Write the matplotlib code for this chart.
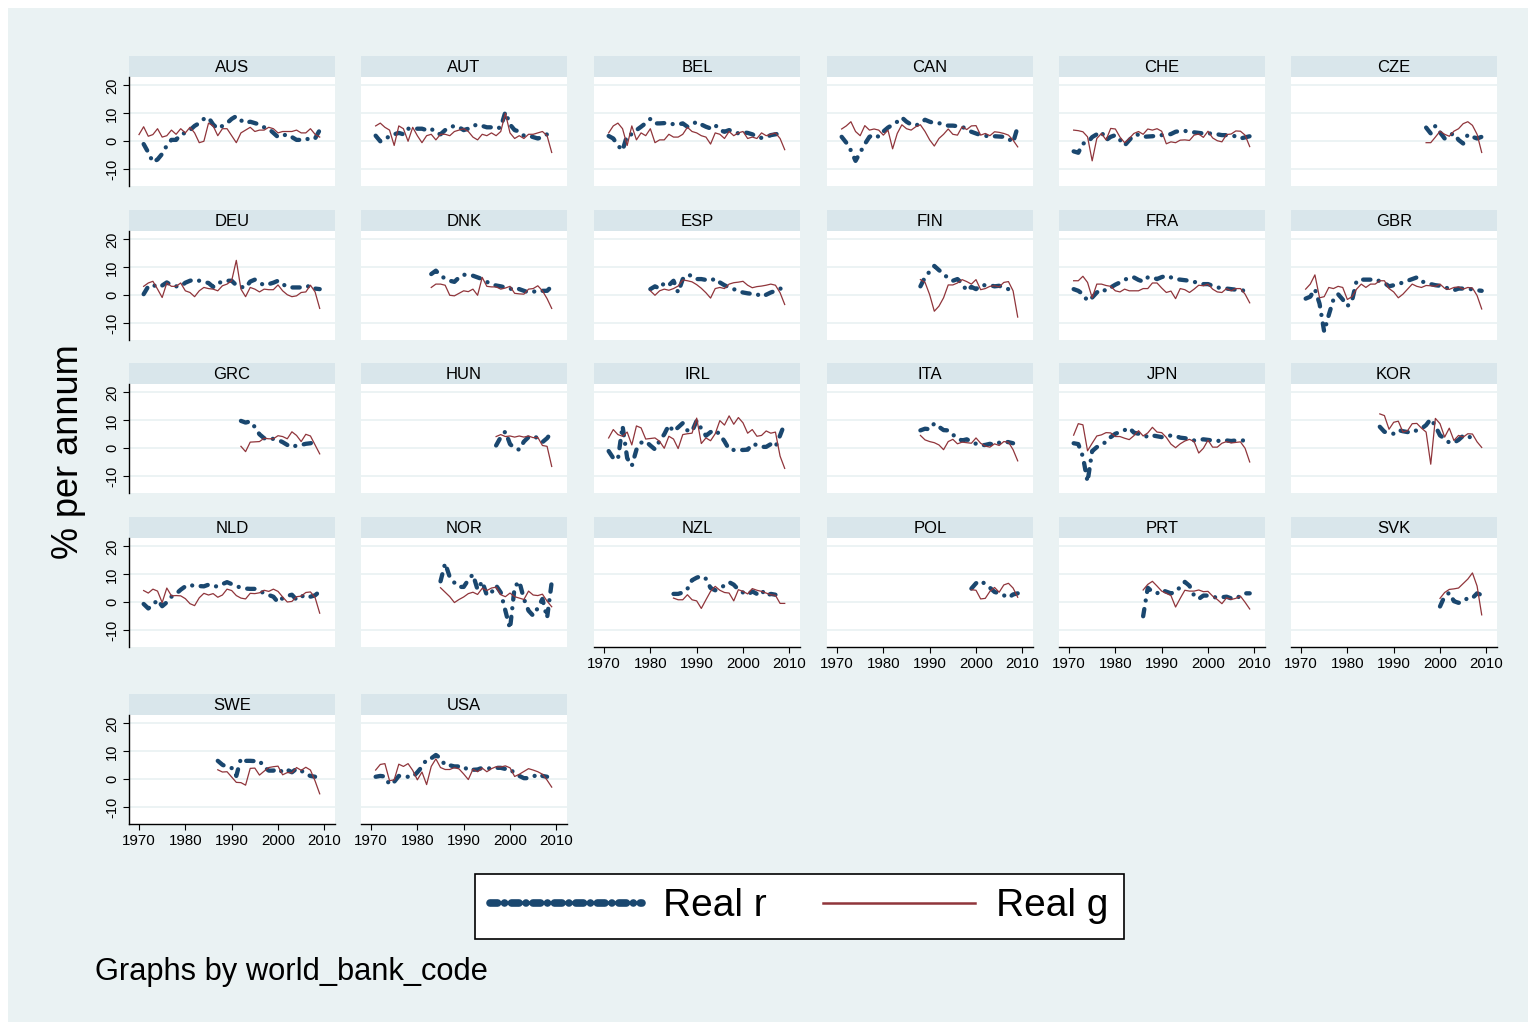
import matplotlib
matplotlib.use("Agg")
import matplotlib.pyplot as plt
from matplotlib.patches import Rectangle
import numpy as np

plt.rcParams['font.family'] = ['Liberation Sans', 'DejaVu Sans']

countries = ["AUS", "AUT", "BEL", "CAN", "CHE", "CZE",
             "DEU", "DNK", "ESP", "FIN", "FRA", "GBR",
             "GRC", "HUN", "IRL", "ITA", "JPN", "KOR",
             "NLD", "NOR", "NZL", "POL", "PRT", "SVK",
             "SWE", "USA"]

# first year of each series (values are yearly from there on)
r_start = {"AUS": 1971, "AUT": 1971, "BEL": 1971, "CAN": 1971, "CHE": 1971, "CZE": 1997,
           "DEU": 1971, "DNK": 1983, "ESP": 1980, "FIN": 1988, "FRA": 1971, "GBR": 1971,
           "GRC": 1992, "HUN": 1997, "IRL": 1971, "ITA": 1988, "JPN": 1971, "KOR": 1987,
           "NLD": 1971, "NOR": 1985, "NZL": 1985, "POL": 1999, "PRT": 1986, "SVK": 2000,
           "SWE": 1987, "USA": 1971}
g_start = dict(r_start, AUS=1970)

# real interest rate r (% per annum)
AUS_r = [-1, -4, -7.5, -6.5, -4.5, -1.5, 0.5, 0.5, 2.5, 3, 4, 5.5, 6.5, 8, 8.5, 6, 4.5, 5.5, 6.5, 8,
         9, 7.5, 6.5, 7, 6.5, 6, 5, 4.5, 3, 1.5, 2, 2.5, 1.5, 0.5, 0.5, 1, 0.5, 1, 4]
AUT_r = [2, 0, 0.5, 2, 2.5, 3, 2.5, 4.5, 4.5, 4.5, 4.5, 4, 4.5, 3, 2.5, 4, 5, 5.5, 5, 4,
         4.5, 5.5, 6, 5.5, 5, 5, 4.5, 5, 10.5, 6, 4, 3.5, 2, 2, 1.5, 1, 1.5, 2.5, 1.5]
BEL_r = [1.9, 1, -1.5, -3.3, 2.2, 2.5, 4, 5.2, 6.5, 8, 6.4, 6.4, 6.5, 6, 6.2, 6, 6.4, 5.2, 6, 7,
         6, 5.2, 4.6, 5.8, 4, 3.4, 4, 3.6, 2.8, 3.2, 3, 2.5, 1.6, 1.2, 1.5, 2.2, 2.5, 2.8, 2.8]
CAN_r = [1.6, -0.5, -3.3, -7, -4, -1, 1.6, 2.4, 1.6, 3.5, 4.9, 5.9, 7, 8.5, 7, 6, 5.6, 6.5, 7.7, 7,
         6.5, 6.5, 5.9, 5.6, 5.6, 5.4, 5.2, 4.3, 3.4, 2.8, 2.2, 2, 1.6, 1.8, 1.7, 1.6, 1, -0.5, 5.2]
CHE_r = [-3.6, -4.1, -0.8, -0.5, 1.5, 2.5, 3.4, 0.4, 1.6, 2.2, 0.5, -1.5, 0.4, 2.2, 2.4, 1.6, 1.7, 1.8,
         2, 2.2, 2.2, 2.6, 3.4, 3.7, 3.7, 3.5, 3.2, 3, 2.8, 2.8, 2.8, 2.5, 2.2, 2.2, 2, 1.8, 1, 1.4, 1.8]
CZE_r = [4.9, 2.8, 5.5, 3.2, 1, 2.2, 2.8, 0.5, -0.8, 2.4, 1.6, 1, 1.6]
DEU_r = [0.4, 3.2, 3.8, 2.8, 3.5, 4.6, 3.6, 3.2, 3.2, 4.5, 5.2, 5.6, 5.2, 4.8, 4.4, 3, 4.6, 4.6, 5.2,
         5.2, 3.6, 3, 2.7, 4.9, 5.6, 4.5, 3.6, 4, 4.5, 5.2, 4, 3, 2.8, 2.8, 2.8, 2.8, 3.6, 2.4, 2.2]
DNK_r = [7.6, 8.8, 7, 6, 5.2, 4.8, 6.4, 7.4, 7, 7, 6.4, 5.8, 4.8, 4, 3.5, 3.2, 2.8, 2.2, 2.8, 2.2,
         1.6, 1, 1.2, 1.8, 1.6, 1.6, 3.2]
ESP_r = [2.2, 3.2, 2.4, 4.4, 3.6, 5.2, 1, 5.8, 7.3, 7, 5.8, 5.8, 5.5, 5.2, 6, 4.6, 3.6, 2.8, 2.2, 1.5,
         1, 0.7, 0.5, 0.4, -0.5, 0.2, 1, 1.6, 2.4, 2.2]
FIN_r = [3.2, 6.5, 8.5, 10.5, 9, 7.7, 6, 5.2, 5.8, 4.2, 1.6, 3, 2.2, 3.6, 3.6, 3.6, 3.2, 3.4, 2.6, 2.2, 1.6]
FRA_r = [2.2, 1.6, 0.4, -2, -0.8, 1, 2.2, 1.6, 2.8, 3.8, 4.6, 5.5, 6.4, 6.4, 5.5, 4.9, 6.4, 6.4, 5.8,
         6.5, 7, 6.4, 5.8, 5.6, 5.4, 5.2, 4.8, 4.4, 4, 4, 3.4, 2.8, 2.6, 2.4, 2.2, 2, 1.6, 1.8, 2.2]
GBR_r = [-1.2, -0.5, 2.2, -3, -13, -7, -1.5, 0.4, -1.5, -3.9, -2, 5.2, 5.6, 5.6, 5.6, 5.8, 5, 4.4, 3.2,
         3.6, 4, 4.6, 5.2, 5.8, 6.4, 4.9, 4.6, 4, 3.6, 3.4, 2.8, 2.4, 1.8, 2.4, 2.4, 2.2, 2.2, 1.8, 1.6]
GRC_r = [9.8, 9.2, 9.6, 7.6, 5, 3.6, 3.2, 3.4, 3, 2.2, 1.2, 0.4, 1, 1.2, 1.6, 1.8, 2.4]
HUN_r = [1, 4, 6, 1.5, 0, -0.5, 2.4, 4, 4.4, 3.6, 2.2, 3.6, 5.8]
IRL_r = [-1, -3.5, -4, 8, -3.5, -6.3, -0.5, 2, 2.5, 1, -0.4, 2.7, 5, 8.3, 6, 7.5, 9, 6.4, 6, 9.9,
         7, 4.5, 5.8, 6.5, 4.9, 2.5, -0.4, -0.6, -0.6, -0.6, -0.5, 1.5, 1.2, 0.5, 0.5, 1.5, 0.5, 4.6, 8.9]
ITA_r = [6.4, 7, 6.8, 8.9, 7.7, 6.5, 6.4, 4.9, 3.5, 2.8, 3.2, 2.4, 1.6, 1, 1.2, 1.6, 1.2, 2, 2.4, 2.2, 1.8]
JPN_r = [1.8, 1.5, -3, -12, -1, 0.4, 1.5, 2.2, 4, 5.2, 5.8, 6.5, 7.3, 5.6, 5.2, 4.9, 4, 4.6, 4.3, 4,
         4.2, 4.6, 4.4, 3.8, 3.6, 3.4, 2.8, 3, 3.2, 3, 2.8, 2.6, 2.8, 2.8, 2.6, 2.8, 2.8, 2.8]
KOR_r = [7.7, 5.9, 5.5, 5.2, 6.5, 6.1, 5.8, 5.6, 6.5, 7, 8.3, 10.5, 8, 4.6, 3.5, 2, 2, 3, 4.5, 4.6, 3.2]
NLD_r = [-0.6, -2.2, -1, 0.9, -1.4, 0, 2, 3, 4.5, 5.7, 6.3, 5.7, 5.8, 5.7, 6.3, 5.7, 5.7, 6.5, 7.2,
         6.5, 5.7, 5.3, 4.9, 4.8, 4.8, 4, 3.3, 2.6, 2, 0, 1.5, 2.3, 2.7, 0.9, 2, 2.7, 2, 2.5, 3.9]
NOR_r = [7.5, 14, 9, 7, 5.5, 5.5, 8, 10, 4.5, 7.5, 2.5, 3.5, 6, 3.5, -3, -9.5, 5.5, 7.5, 1.2, -3,
         -4.8, -2, 1.2, -5.6, 7.2]
NZL_r = [3, 3, 3.5, 4.8, 7.9, 8.8, 9.4, 8.4, 5.1, 4.3, 5.1, 6, 7.2, 6.3, 4.5, 3.5, 2.7, 3.9, 3, 4.3, 2.3, 3, 2.7]
POL_r = [4.9, 6.8, 7.7, 6.5, 5.2, 3.7, 3.2, 2.5, 1.6, 2.8, 3.2]
PRT_r = [-5, 5.2, 3.7, 3.2, 4.4, 3.8, 3.2, 3.7, 5.5, 7.3, 5.9, 2.4, 1.2, 2.4, 2.4, 2, 1.6, 1.8, 2, 1.4,
         1.2, 2.4, 3.2, 3.2]
SVK_r = [-1.5, 2.2, 3.4, 0.4, -0.2, 0.2, 1.6, 1.5, 3.2, 2.6]
SWE_r = [6.6, 5.2, 4.4, 4, 1.2, 7.5, 6.6, 6.6, 6.5, 6.6, 4.4, 3.1, 3.1, 3.8, 2.5, 3.4, 2.5, 3.8, 3.1, 1.9, 1.2, 0.9]
USA_r = [0.9, 1.2, 1, -1.9, -0.9, 1.2, 1, 0.9, 0.8, 2.5, 4.5, 7.1, 7.5, 8.7, 7.5, 5, 5, 4.6, 4.6, 4.6,
         3.1, 3.4, 3.5, 4.1, 4.1, 3.7, 4.1, 4.1, 3.7, 3.7, 2.1, 1.2, 0.4, 0.4, 0.9, 1.9, 1.2, 0.9]

# real growth g (% per annum)
AUS_g = [2.4, 5.2, 1.8, 2.4, 4.5, 1.5, 2, 4, 2.5, 4.5, 3, 5, 3, -0.5, 0, 6.5, 5.5, 2, 4.5, 4.5,
         2, -0.5, 3, 4, 5, 3.5, 4, 4, 5, 4.5, 3, 3.5, 3.5, 3.5, 4, 3, 3, 4.5, 2.5, 1.5]
AUT_g = [5.5, 6.5, 5, 4, -1.5, 5.5, 4.5, 0, 5, 2, -0.5, 2, 2.5, 0.5, 2.5, 2.5, 2, 3.5, 4, 4.5,
         3.5, 1.5, 0.5, 2.5, 2, 3, 2, 3.5, 10, 3, 1, 2, 1, 2.5, 2.5, 3, 3.5, 2, -4]
BEL_g = [3, 5.5, 6.5, 4.5, -1.5, 5.5, 0.5, 3, 2, 4.5, -0.5, 0.5, 0.5, 2.5, 1.5, 1.5, 2.5, 5, 3.5, 3,
         2, 1.5, -1, 3, 2.5, 1, 3.5, 2, 3, 3.5, 1, 1.5, 1, 3, 2, 2.5, 3, 1, -3]
CAN_g = [4.4, 5.5, 7, 3.5, 2, 5.6, 4, 4.4, 4, 2.2, 4, -2.7, 2.8, 5.9, 4.5, 4, 5.2, 5.9, 3.5, 0.5,
         -1.7, 1, 2.5, 4.4, 2.5, 2.2, 5.2, 4.2, 5.5, 5.6, 2.2, 2.8, 2, 3.4, 3.2, 2.8, 2.2, 0.4, -2]
CHE_g = [4, 3.8, 3.4, 1.6, -7, 1, 2.8, 0.5, 4.6, 4.4, 1.5, -0.5, 1, 2.8, 3.5, 2.5, 4.4, 4, 4.5, 3.6,
         -0.9, -0.2, -0.5, 0.4, 0.5, 0.3, 2.2, 2.6, 1.4, 3.6, 1.2, 0.2, -0.2, 2.4, 2.6, 3.7, 3.6, 2.2, -1.9]
CZE_g = [-0.5, -0.5, 1.5, 3.6, 2.5, 1.8, 3.6, 4.5, 6.3, 7, 5.7, 2.5, -4]
DEU_g = [3.2, 4.4, 5, 2.2, -0.8, 4.4, 3.2, 3.2, 4.4, 1.6, 1, -0.5, 1.6, 2.8, 2.4, 2.2, 1.6, 3.4, 4, 5.2,
         12.5, 2.2, -0.5, 2.8, 2.2, 1.2, 2.2, 2, 2, 3.7, 1.6, 0.2, -0.5, -0.2, 1, 1.2, 3.6, 1.2, -4.7]
DNK_g = [2.8, 4, 4, 3.6, 0, -0.2, 0.7, 1.6, 1.3, 2.2, 0, 6.4, 3.2, 3, 3, 2.2, 2.6, 3.2, 0.7, 0.5,
         0.4, 2.2, 2.4, 3.4, 1.6, -1.2, -4.7]
ESP_g = [1.6, 0, 1.6, 2.2, 1.8, 2.4, 3.3, 5.5, 5.2, 4.8, 3.8, 2.5, 0.9, -1, 2.4, 2.8, 2.4, 4, 4.5, 4.7,
         5, 3.6, 2.7, 3.1, 3.3, 3.6, 4, 3.6, 0.9, -3.3]
FIN_g = [5.6, 4.6, 0.2, -5.7, -3.9, -0.9, 3.7, 3.7, 4.4, 5.6, 4.9, 4, 5.6, 2, 2.4, 3.2, 3.4, 3, 4.6,
         4.9, 1.6, -7.8]
FRA_g = [5.2, 5.2, 6.8, 4.6, -0.9, 4, 4, 3.5, 3.2, 1.6, 1.2, 2.2, 1.6, 1.6, 1.6, 2.4, 2.4, 4.4, 4.4,
         2.6, 1, 1.5, -1.2, 2.4, 2, 1, 2.2, 3.6, 3.4, 4, 2.2, 1.2, 1, 2.4, 1.6, 2.4, 2.4, 0.4, -2.7]
GBR_g = [2.2, 4, 7.3, -0.9, -0.5, 2.8, 2.4, 3.2, 2.8, -1.5, -0.5, 2.2, 4, 2.8, 4, 4, 5.2, 5.2, 2.4,
         1.2, -0.9, 0.4, 2.2, 4, 3.2, 2.8, 3.5, 3.4, 3.2, 4, 2.5, 2.1, 2.8, 3, 2.2, 2.8, 2.6, -0.1, -4.9]
GRC_g = [0.7, -1.2, 2.2, 2.3, 2.4, 3.6, 3.4, 3.4, 4.5, 4.2, 3.4, 5.9, 4.6, 2.4, 5, 4.4, 1.2, -2]
HUN_g = [4.2, 4.9, 4.2, 4.4, 4, 4.4, 4, 4.4, 3.8, 3.9, 1, 0.7, -6.5]
IRL_g = [3.7, 6.7, 4.9, 4.3, 5.8, 1.2, 8, 7.3, 3.3, 3.5, 3.7, 2.5, 0, 4.3, 3.3, -0.1, 4.9, 5.2, 5.4,
         10.8, 1.7, 3.7, 2.7, 5.2, 9.9, 8.3, 11.6, 8.6, 11, 9.1, 5.4, 6.7, 4.3, 4.6, 6.2, 5.4, 5.8, -2.8, -7.2]
ITA_g = [4.6, 3, 2.4, 2, 1.2, -0.5, 2.4, 3.2, 1.6, 2.2, 2, 1.8, 3.7, 1.8, 0.8, 0.4, 1.6, 1, 2.4, 2.2,
         -0.5, -4.5]
JPN_g = [4.7, 8.8, 8.4, -0.9, 1.8, 4.4, 4.8, 5.6, 5.5, 4.2, 4.2, 3.6, 3.1, 4.5, 6.3, 4.4, 5.5, 7.5,
         5.8, 5.6, 3.9, 1.5, 0.2, 1.6, 2.6, 3.2, 2.4, -1.7, 0, 2.9, 0.4, 0.4, 1.8, 2.4, 1.9, 2.1, 2.3, 0, -4.9]
KOR_g = [12.3, 11.7, 6.8, 9.3, 9.7, 5.8, 6.3, 8.8, 8.9, 7.2, 5.8, -5.7, 10.7, 8.8, 4, 7.2, 2.8, 4.6,
         4, 5.2, 5.1, 2.3, 0.3]
NLD_g = [4.2, 3.3, 4.7, 4, -0.1, 5.1, 2.3, 2.4, 2.3, 1.3, -0.5, -1.2, 1.6, 3.2, 2.6, 3.1, 1.8, 2.6,
         4.7, 4.2, 2.4, 1.5, 1.2, 3.2, 3.1, 3.4, 4.3, 3.9, 4.7, 3.9, 1.9, 0.1, 0.3, 2, 2.2, 3.5, 3.7, 1.7, -3.9]
NOR_g = [5.2, 3.6, 2, -0.1, 1, 1.9, 3.1, 3.6, 2.8, 5, 4.2, 5.1, 5.4, 2.7, 2, 3.3, 2, 1.5, 1, 4, 2.6,
         2.4, 2.9, 0.4, -1.6]
NZL_g = [1.5, 0.9, 0.9, 2.7, 0.9, 0.5, -2.2, 0.9, 3.9, 5.7, 4.3, 3.5, 3.3, 0.5, 4.5, 3.9, 3, 4.9,
         4.3, 3.9, 3.3, 2.7, 2.5, -0.4, -0.4]
POL_g = [4.5, 4.3, 1.2, 1.4, 3.9, 5.3, 3.6, 6.2, 6.8, 5.1, 1.8]
PRT_g = [4.4, 6.4, 7.5, 5.8, 4, 3.2, 2.4, -1.7, 1.4, 4.3, 4, 4, 4.4, 3.8, 3.9, 2.2, 1, -0.5, 1.6, 1,
         1.4, 2.2, 0, -2.4]
SVK_g = [1.4, 3.5, 4.6, 4.8, 5.1, 6.7, 8.3, 10.5, 5.8, -4.5]
SWE_g = [3.4, 2.6, 2.7, 0.8, -1.1, -1.2, -2.1, 3.9, 4, 1.5, 2.9, 4.2, 4.5, 4.7, 1.6, 2.4, 2.3, 4.2,
         3.2, 4.3, 3.3, -0.6, -5.2]
USA_g = [3.3, 5.3, 5.6, -0.5, -0.2, 5.4, 4.6, 5.6, 3.2, -0.2, 2.6, -1.9, 4.6, 7.3, 4.2, 3.5, 3.5, 4.2,
         3.7, 1.9, -0.1, 3.6, 2.7, 4, 2.7, 3.8, 4.5, 4.4, 4.8, 4.1, 1, 1.8, 2.8, 3.8, 3.3, 2.7, 1.8, -0.3, -2.8]

real_r = {"AUS": AUS_r, "AUT": AUT_r, "BEL": BEL_r, "CAN": CAN_r, "CHE": CHE_r, "CZE": CZE_r,
          "DEU": DEU_r, "DNK": DNK_r, "ESP": ESP_r, "FIN": FIN_r, "FRA": FRA_r, "GBR": GBR_r,
          "GRC": GRC_r, "HUN": HUN_r, "IRL": IRL_r, "ITA": ITA_r, "JPN": JPN_r, "KOR": KOR_r,
          "NLD": NLD_r, "NOR": NOR_r, "NZL": NZL_r, "POL": POL_r, "PRT": PRT_r, "SVK": SVK_r,
          "SWE": SWE_r, "USA": USA_r}
real_g = {"AUS": AUS_g, "AUT": AUT_g, "BEL": BEL_g, "CAN": CAN_g, "CHE": CHE_g, "CZE": CZE_g,
          "DEU": DEU_g, "DNK": DNK_g, "ESP": ESP_g, "FIN": FIN_g, "FRA": FRA_g, "GBR": GBR_g,
          "GRC": GRC_g, "HUN": HUN_g, "IRL": IRL_g, "ITA": ITA_g, "JPN": JPN_g, "KOR": KOR_g,
          "NLD": NLD_g, "NOR": NOR_g, "NZL": NZL_g, "POL": POL_g, "PRT": PRT_g, "SVK": SVK_g,
          "SWE": SWE_g, "USA": USA_g}

x_ticks = [1970, 1980, 1990, 2000, 2010]
y_ticks = [-10, 0, 10, 20]

BG = "#eaf2f3"
STRIP = "#d9e6eb"
NAVY = "#1a476f"
MAROON = "#90353b"

W, H = 1533, 1025
col_left = [129, 361, 594, 827, 1059, 1291]
row_top = [77, 231, 384, 538, 715]
panel_w, panel_h, strip_h = 206, 109, 21

fig = plt.figure(figsize=(W / 100, H / 100), dpi=100, facecolor="white")
fig.patches.append(Rectangle((8 / W, 3 / H), 1520 / W, 1014 / H, transform=fig.transFigure,
                             facecolor=BG, edgecolor="none", zorder=-10))

handles = None
for i, code in enumerate(countries):
    row, col = divmod(i, 6)
    left, top = col_left[col], row_top[row]
    ax = fig.add_axes([left / W, 1 - (top + panel_h) / H, panel_w / W, panel_h / H])
    ax.set_facecolor("white")
    ax.set_xlim(1967.84, 2012.3)
    ax.set_ylim(-16, 23)
    for v in y_ticks:
        ax.axhline(v, color=BG, lw=1.3, zorder=0)

    yr_r = r_start[code] + np.arange(len(real_r[code]))
    yr_g = g_start[code] + np.arange(len(real_g[code]))
    lr, = ax.plot(yr_r, real_r[code], color=NAVY, lw=3.1,
                  linestyle=(0, (1.7, 2.0, 0.01, 2.0)), dash_capstyle="round",
                  solid_capstyle="round", zorder=2)
    lg, = ax.plot(yr_g, real_g[code], color=MAROON, lw=0.9, zorder=3)
    if handles is None:
        handles = [lr, lg]

    # header strip with the country code
    ax.add_patch(Rectangle((0, 1), 1, strip_h / panel_h, transform=ax.transAxes,
                           facecolor=STRIP, edgecolor="none", clip_on=False))
    ax.text(0.5, 1 + strip_h / panel_h / 2 - 0.012, code, transform=ax.transAxes,
            ha="center", va="center", fontsize=12)

    for s in ["top", "right"]:
        ax.spines[s].set_visible(False)

    if col == 0:
        ax.spines["left"].set_color("black")
        ax.spines["left"].set_linewidth(1.0)
        ax.set_yticks(y_ticks)
        ax.set_yticklabels([str(v) for v in y_ticks], rotation=90, va="center")
        ax.tick_params(axis="y", direction="out", length=4, width=0.8, pad=3, labelsize=10.5)
    else:
        ax.spines["left"].set_visible(False)
        ax.set_yticks([])

    bottom = row == 4 or (row == 3 and col >= 2)
    if bottom:
        ax.spines["bottom"].set_color("black")
        ax.spines["bottom"].set_linewidth(1.0)
        ax.set_xticks(x_ticks)
        ax.tick_params(axis="x", direction="out", length=4, width=0.8, pad=3, labelsize=10.8)
    else:
        ax.spines["bottom"].set_visible(False)
        ax.set_xticks([])

fig.text(68 / W, 1 - 452 / H, "% per annum", rotation=90, fontsize=26, ha="center", va="center")
fig.text(95 / W, 1 - 972 / H, "Graphs by world_bank_code", fontsize=22.2, ha="left", va="center")

leg = fig.legend(handles, ["Real r", "Real g"], loc="center",
                 bbox_to_anchor=(799.5 / W, 1 - 906.5 / H), ncol=2, fontsize=28,
                 frameon=True, fancybox=False, edgecolor="black", framealpha=1,
                 handlelength=3.9, handletextpad=0.55, columnspacing=1.45, borderpad=0.38)
leg.get_frame().set_linewidth(1.2)
leg_lines = leg.get_lines()
leg_lines[0].set_linewidth(5.5)
leg_lines[0].set_linestyle((0, (1.0, 0.9, 0.01, 0.9)))
leg_lines[1].set_linewidth(1.8)

fig.savefig("out.png", dpi=100, facecolor="white")
